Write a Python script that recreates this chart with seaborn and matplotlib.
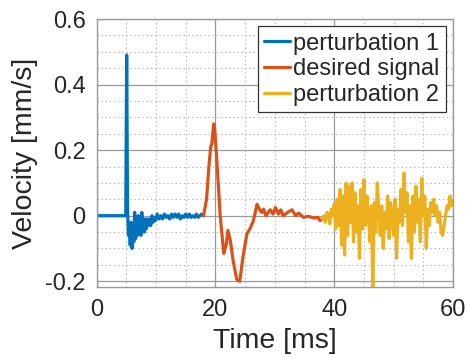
import numpy as np
import pandas as pd
import matplotlib
matplotlib.use("Agg")
import matplotlib.pyplot as plt
import seaborn as sns
from matplotlib.ticker import MultipleLocator

# perturbation 1 (impact spike + damped ringing)
t_pert1 = [0, 4.9, 5.05, 5.2, 5.35, 5.5, 5.65, 5.8, 5.95, 6.1, 6.25, 6.4, 6.55, 6.7,
           6.85, 7.0, 7.15, 7.3, 7.45, 7.6, 7.75, 7.9, 8.05, 8.2, 8.35, 8.5, 8.7, 8.9,
           9.1, 9.3, 9.5, 9.7, 9.9, 10.2, 10.5, 10.8, 11.1, 11.4, 11.7, 12.0, 12.3,
           12.6, 12.9, 13.2, 13.5, 13.8, 14.1, 14.4, 14.7, 15.0, 15.3, 15.6, 15.9,
           16.2, 16.5, 16.8, 17.1, 17.4, 17.7, 18.0]
v_pert1 = [0, 0, 0.49, 0.02, -0.06, -0.03, -0.09, -0.02, -0.1, -0.05, -0.08, 0.01,
           -0.07, -0.03, -0.06, 0.0, -0.05, -0.02, -0.06, 0.01, -0.04, -0.02, -0.05,
           -0.01, -0.04, -0.01, -0.03, -0.01, -0.03, 0.0, -0.02, -0.005, -0.015,
           0.005, -0.01, 0.0, -0.01, 0.005, -0.005, 0.0, -0.01, 0.005, -0.005, 0.005,
           -0.005, 0.005, -0.01, 0.0, -0.005, 0.005, -0.005, 0.005, -0.005, 0.0,
           -0.005, 0.005, -0.005, 0.0, 0.005, 0.0]

# desired signal
t_desired = [18.0, 18.5, 18.9, 19.2, 19.4, 19.7, 19.9, 20.3, 20.8, 21.4, 21.8, 22.1,
             22.5, 23.0, 23.6, 24.1, 24.6, 25.3, 25.8, 26.4, 27.0, 27.4, 27.8, 28.1,
             28.5, 29.2, 29.7, 30.1, 30.6, 31.0, 31.4, 31.8, 32.3, 32.9, 33.5, 34.0,
             34.8, 35.7, 36.5, 37.2, 37.6, 38.0]
v_desired = [0.0, 0.05, 0.15, 0.21, 0.22, 0.28, 0.26, 0.15, 0.0, -0.115, -0.09,
             -0.045, -0.075, -0.14, -0.195, -0.2, -0.13, -0.055, -0.04, -0.015, 0.035,
             0.02, 0.01, 0.02, 0.0, 0.018, 0.005, 0.025, 0.005, 0.018, 0.0, 0.005,
             0.012, 0.018, 0.0, 0.008, -0.005, -0.002, -0.007, -0.005, -0.015, -0.01]

# perturbation 2 (broadband noise)
t_pert2 = [38.0, 38.25, 38.5, 38.75, 39.0, 39.25, 39.5, 39.75, 40.0, 40.25, 40.5,
           40.75, 41.0, 41.25, 41.5, 41.75, 42.0, 42.25, 42.5, 42.75, 43.0, 43.25,
           43.5, 43.75, 44.0, 44.25, 44.5, 44.75, 45.0, 45.25, 45.5, 45.75, 46.0,
           46.25, 46.5, 46.75, 47.0, 47.25, 47.5, 47.75, 48.0, 48.25, 48.5, 48.75,
           49.0, 49.25, 49.5, 49.75, 50.0, 50.25, 50.5, 50.75, 51.0, 51.25, 51.5,
           51.75, 52.0, 52.25, 52.5, 52.75, 53.0, 53.25, 53.5, 53.75, 54.0, 54.25,
           54.5, 54.75, 55.0, 55.25, 55.5, 55.75, 56.0, 56.25, 56.5, 56.75, 57.0,
           57.25, 57.5, 57.75, 58.0, 58.25, 58.5, 58.75, 59.0, 59.25, 59.5, 59.75, 60.0]
v_pert2 = [-0.01, 0.0, -0.02, 0.01, 0.005, -0.025, 0.02, 0.0, 0.035, -0.04, 0.05,
           -0.03, 0.08, -0.09, 0.06, -0.12, 0.10, -0.06, 0.09, -0.02, 0.10, -0.08,
           0.07, -0.05, 0.03, -0.13, 0.08, -0.04, 0.11, -0.03, 0.06, 0.0, -0.08,
           0.03, -0.22, 0.04, -0.05, 0.10, 0.02, -0.06, 0.03, -0.10, 0.01, -0.04,
           0.06, -0.07, 0.04, 0.0, -0.06, 0.05, -0.13, 0.02, -0.02, 0.08, -0.03,
           0.13, 0.01, 0.07, -0.08, 0.03, -0.13, 0.06, -0.05, 0.09, -0.02, 0.05,
           -0.08, 0.115, 0.0, 0.06, -0.10, 0.02, -0.03, 0.04, 0.01, 0.05, 0.0, 0.03,
           -0.02, 0.01, -0.05, -0.06, -0.03, 0.0, 0.03, 0.02, 0.06, 0.03, 0.045]

labels = ["perturbation 1", "desired signal", "perturbation 2"]
colors = ["#0072BD", "#D95319", "#EDB120"]

df = pd.concat([
    pd.DataFrame({"t": t_pert1, "v": v_pert1, "signal": labels[0]}),
    pd.DataFrame({"t": t_desired, "v": v_desired, "signal": labels[1]}),
    pd.DataFrame({"t": t_pert2, "v": v_pert2, "signal": labels[2]}),
], ignore_index=True)

sns.set_style("white")
plt.rcParams["font.family"] = ["Liberation Sans", "DejaVu Sans"]

fig = plt.figure(figsize=(4.67, 3.59), dpi=100)
ax = fig.add_axes([0.207, 0.201, 0.763, 0.746])

sns.lineplot(data=df, x="t", y="v", hue="signal", hue_order=labels,
             palette=colors, estimator=None, sort=False, linewidth=2.3, ax=ax)

ax.set_xlim(0, 60)
ax.set_ylim(-0.217, 0.6)
ax.xaxis.set_major_locator(MultipleLocator(20))
ax.xaxis.set_minor_locator(MultipleLocator(5))
ax.yaxis.set_major_locator(MultipleLocator(0.2))
ax.yaxis.set_minor_locator(MultipleLocator(0.05))
ax.set_yticks([-0.2, 0, 0.2, 0.4, 0.6])
ax.set_yticklabels(["-0.2", "0", "0.2", "0.4", "0.6"])
ax.grid(which="major", color="#9a9a9a", linewidth=0.9, linestyle="-")
ax.grid(which="minor", color="#b5b5b5", linewidth=0.8, linestyle=(0, (1.2, 2.5)))
ax.set_axisbelow(True)
ax.tick_params(which="both", length=0, labelsize=17, colors="#262626")
ax.tick_params(axis="x", pad=9)
ax.tick_params(axis="y", pad=8)
for s in ax.spines.values():
    s.set_color("#9a9a9a")
    s.set_linewidth(1.0)

ax.set_xlabel("Time [ms]", fontsize=20.5, color="#262626", labelpad=5)
ax.set_ylabel("Velocity [mm/s]", fontsize=20.5, color="#262626", labelpad=5)

leg = ax.legend(loc="upper right", fontsize=17, frameon=True, fancybox=False,
                handlelength=1.1, handletextpad=0.12, labelspacing=0.15,
                borderpad=0.28, borderaxespad=0.3)
leg.get_frame().set_edgecolor("#333333")
leg.get_frame().set_linewidth(0.9)
leg.get_frame().set_alpha(1)

fig.savefig("out.png", dpi=100)
